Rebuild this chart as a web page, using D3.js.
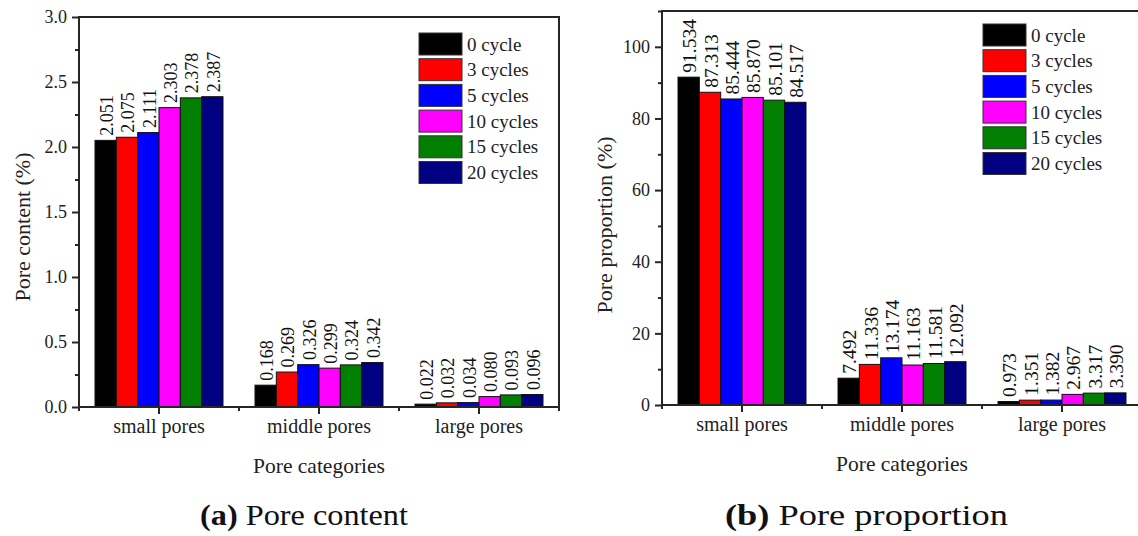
<!DOCTYPE html>
<html>
<head>
<meta charset="utf-8">
<script src="https://cdn.jsdelivr.net/npm/d3@7/dist/d3.min.js"></script>
<style>
  html, body { margin: 0; padding: 0; background: #fff; }
</style>
</head>
<body>
<svg id="chart" width="1138" height="536"></svg>
<script>
// Pore categories along the x axis
const categories = ["small pores", "middle pores", "large pores"];

// Freeze-thaw cycle series and their fills
const seriesNames = ["0 cycle", "3 cycles", "5 cycles", "10 cycles", "15 cycles", "20 cycles"];
const seriesColors = ["#000000", "#ff0000", "#0000ff", "#ff00ff", "#007f00", "#000080"];

// (a) Pore content (%) per category, one value per series
const contentSmall  = [2.051, 2.075, 2.111, 2.303, 2.378, 2.387];
const contentMiddle = [0.168, 0.269, 0.326, 0.299, 0.324, 0.342];
const contentLarge  = [0.022, 0.032, 0.034, 0.080, 0.093, 0.096];

// (b) Pore proportion (%) per category, one value per series
const proportionSmall  = [91.534, 87.313, 85.444, 85.870, 85.101, 84.517];
const proportionMiddle = [7.492, 11.336, 13.174, 11.163, 11.581, 12.092];
const proportionLarge  = [0.973, 1.351, 1.382, 2.967, 3.317, 3.390];

// Axis tick values
const contentTicks = [0, 0.5, 1.0, 1.5, 2.0, 2.5, 3.0];
const contentMinor = [0.25, 0.75, 1.25, 1.75, 2.25, 2.75];
const proportionTicks = [0, 20, 40, 60, 80, 100];
const proportionMinor = [10, 30, 50, 70, 90, 110];

const FONT = "Liberation Serif";

const svg = d3.select("#chart");
svg.append("rect").attr("width", 1138).attr("height", 536).attr("fill", "#fff");

const fmt3 = d3.format(".3f");
const axisColor = "#262626";

// every label goes through here so the serif face is set on the element itself
function styleText(sel, size) {
  return sel.style("font-family", `"${FONT}"`).style("font-size", size + "px");
}

function drawPanel(p) {
  const g = svg.append("g");
  const x = d3.scaleBand().domain(categories).range([p.left, p.right]).padding(0);
  const inner = d3.scaleBand().domain(seriesNames)
    .range([x.bandwidth() * 0.1, x.bandwidth() * 0.9]).padding(0);
  const y = d3.scaleLinear().domain(p.domain).range([p.bottom, p.top]);

  // bars with their values written vertically above them
  p.rows.forEach((vals, ci) => {
    const cat = categories[ci];
    const grp = g.append("g").attr("transform", `translate(${x(cat)},0)`);
    grp.selectAll("rect").data(vals).join("rect")
      .attr("x", (d, i) => inner(seriesNames[i]))
      .attr("y", d => y(d))
      .attr("width", inner.bandwidth())
      .attr("height", d => y(0) - y(d))
      .attr("fill", (d, i) => seriesColors[i])
      .attr("stroke", "#111")
      .attr("stroke-width", 1);
    const labels = grp.selectAll("text").data(vals).join("text")
      .attr("transform", (d, i) =>
        `translate(${inner(seriesNames[i]) + inner.bandwidth() / 2 + 1},${y(d) - 4.5}) rotate(-90)`)
      .attr("dy", "0.35em")
      .attr("fill", "#111")
      .text(d => fmt3(d));
    styleText(labels, p.valueSize);
  });

  // y axis: major ticks with labels, minor ticks without
  const yAxis = g.append("g").attr("transform", `translate(${p.left},0)`)
    .call(d3.axisLeft(y).tickValues(p.ticks).tickSize(7).tickPadding(5).tickFormat(p.tickFormat));
  yAxis.select(".domain").remove();
  yAxis.selectAll("line").attr("stroke", axisColor).attr("stroke-width", 2);
  styleText(yAxis.selectAll("text").attr("fill", "#222"), 18);
  const yMinor = g.append("g").attr("transform", `translate(${p.left},0)`)
    .call(d3.axisLeft(y).tickValues(p.minor).tickSize(4).tickFormat(""));
  yMinor.select(".domain").remove();
  yMinor.selectAll("line").attr("stroke", axisColor).attr("stroke-width", 2);

  // x axis: major ticks at category centres, minor ticks at band edges
  const xAxis = g.append("g").attr("transform", `translate(0,${p.bottom})`)
    .call(d3.axisBottom(x).tickSize(7).tickPadding(5));
  xAxis.select(".domain").remove();
  xAxis.selectAll("line").attr("stroke", axisColor).attr("stroke-width", 2);
  styleText(xAxis.selectAll("text").attr("fill", "#222"), 20);
  const edges = categories.map(c => x(c)).concat([x(categories[categories.length - 1]) + x.bandwidth()]);
  g.append("g").selectAll("line").data(edges).join("line")
    .attr("x1", d => d).attr("x2", d => d)
    .attr("y1", p.bottom).attr("y2", p.bottom + 4)
    .attr("stroke", axisColor).attr("stroke-width", 2);

  // frame
  g.append("rect")
    .attr("x", p.left).attr("y", p.top)
    .attr("width", p.right - p.left).attr("height", p.bottom - p.top)
    .attr("fill", "none").attr("stroke", axisColor).attr("stroke-width", 2);

  // axis titles
  styleText(g.append("text")
    .attr("transform", `translate(${p.yTitleX},${p.yTitleY}) rotate(-90)`)
    .attr("text-anchor", "middle").attr("dy", "0.35em")
    .attr("fill", "#222")
    .text(p.yTitle), 22);
  styleText(g.append("text")
    .attr("x", p.left + 1.5 * x.bandwidth()).attr("y", p.xTitleY)
    .attr("text-anchor", "middle")
    .attr("fill", "#222")
    .text("Pore categories"), 21.5);

  // legend
  const lg = g.append("g").attr("transform", `translate(${p.legendX},${p.legendY})`);
  seriesNames.forEach((name, i) => {
    lg.append("rect")
      .attr("x", 0).attr("y", i * 25.7)
      .attr("width", 43).attr("height", 22)
      .attr("fill", seriesColors[i]).attr("stroke", "#333").attr("stroke-width", 1);
    styleText(lg.append("text")
      .attr("x", 48).attr("y", i * 25.7 + 11)
      .attr("dy", "0.35em")
      .attr("fill", "#222")
      .text(name), 19);
  });

  // caption under the panel
  const cap = styleText(svg.append("text")
    .attr("x", p.captionX).attr("y", 525)
    .attr("textLength", p.captionWidth)
    .attr("lengthAdjust", "spacingAndGlyphs")
    .attr("fill", "#111"), 30);
  cap.append("tspan").attr("font-weight", "bold").text(p.captionTag);
  cap.append("tspan").text(" " + p.caption);
}

drawPanel({
  left: 79, right: 559, top: 17, bottom: 407,
  domain: [0, 3],
  rows: [contentSmall, contentMiddle, contentLarge],
  ticks: contentTicks, minor: contentMinor, tickFormat: d3.format(".1f"),
  valueSize: 18,
  yTitle: "Pore content (%)", yTitleX: 22, yTitleY: 227,
  xTitleY: 473,
  legendX: 419, legendY: 33,
  captionX: 200, captionWidth: 208, captionTag: "(a)", caption: "Pore content"
});

drawPanel({
  left: 662, right: 1142, top: 11, bottom: 405,
  domain: [0, 110],
  rows: [proportionSmall, proportionMiddle, proportionLarge],
  ticks: proportionTicks, minor: proportionMinor, tickFormat: d3.format("d"),
  valueSize: 19.5,
  yTitle: "Pore proportion (%)", yTitleX: 604, yTitleY: 225,
  xTitleY: 471,
  legendX: 983, legendY: 24,
  captionX: 725, captionWidth: 283, captionTag: "(b)", caption: "Pore proportion"
});
</script>
</body>
</html>
